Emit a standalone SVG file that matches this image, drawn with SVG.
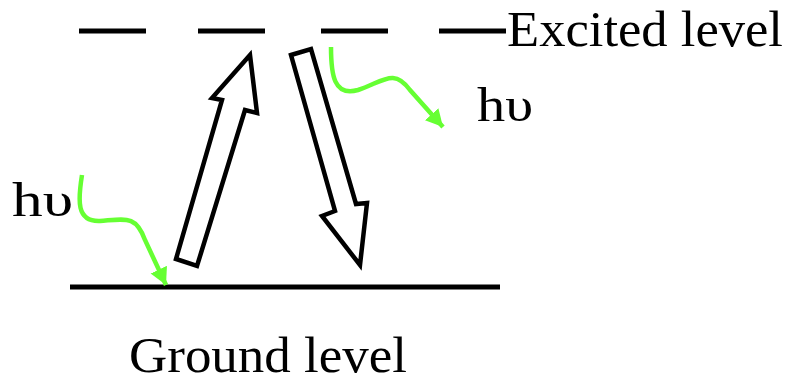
<svg xmlns="http://www.w3.org/2000/svg" width="788" height="383" viewBox="0 0 788 383">
<style>
.lvl{stroke:#000;stroke-width:5;fill:none}
.blk{fill:#fff;stroke:#000;stroke-width:4.5;stroke-linejoin:miter}
.wave{fill:none;stroke:#66ff33;stroke-width:4.5;stroke-linecap:butt}
.t{font-family:"Liberation Serif","Times New Roman",serif;fill:#000}
</style>
<defs>
<marker id="gh" markerUnits="userSpaceOnUse" markerWidth="20" markerHeight="20" refX="17" refY="9" orient="auto">
<path d="M0,0 L17,9 L0,18 z" fill="#66ff33"/>
</marker>
</defs>
<g id="excited-level">
<path class="lvl" d="M79,31 H146 M198,31 H265 M321,31 H388 M439,31 H506"/>
<text class="t" x="507" y="46" font-size="51" textLength="276" lengthAdjust="spacingAndGlyphs">Excited level</text>
</g>
<g id="ground-level">
<path class="lvl" d="M70,287 H500"/>
<text class="t" x="129" y="372" font-size="50" textLength="278" lengthAdjust="spacingAndGlyphs">Ground level</text>
</g>
<g id="absorption-arrow">
<polygon class="blk" points="250,55 257,113 245,110 197,266 176,259 222,100 212,98"/>
</g>
<g id="emission-arrow">
<polygon class="blk" points="291,55 311,49 356,204 367,203 360,265 322,216 335,211"/>
</g>
<g id="photon-in">
<text class="t" x="12" y="216" font-size="48" textLength="61" lengthAdjust="spacingAndGlyphs">hυ</text>
</g>
<g id="photon-out">
<text class="t" x="477" y="121" font-size="48" textLength="56" lengthAdjust="spacingAndGlyphs">hυ</text>
</g>
<g id="connectors">
<path class="wave" d="M82,175 C78,200 76,222 100,221 C126,219 136,215 145,240 L166,285" marker-end="url(#gh)"/>
<path class="wave" d="M331,47 C331,75 334,97 358,90 C384,81 394,68 410,90 L443,127" marker-end="url(#gh)"/>
</g>
</svg>
